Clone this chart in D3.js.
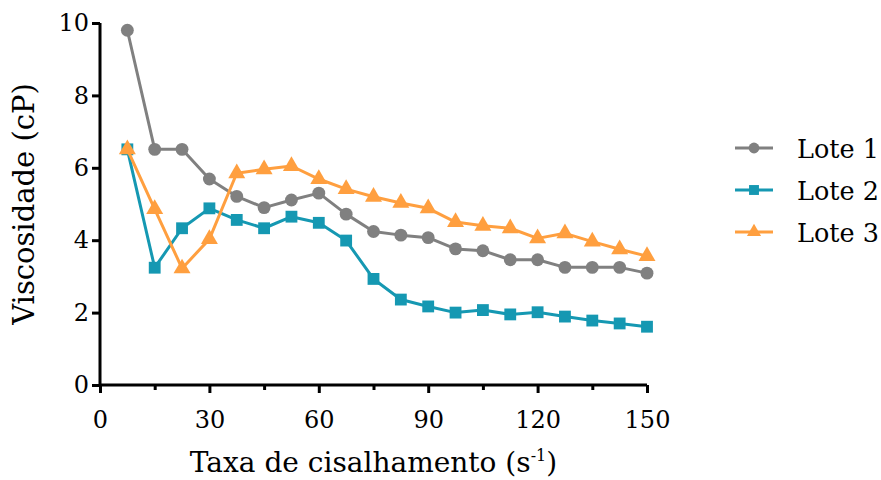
<!DOCTYPE html>
<html>
<head>
<meta charset="utf-8">
<script src="https://cdn.jsdelivr.net/npm/d3@7"></script>
<style>
  html, body { margin: 0; padding: 0; background: #fff; }
  svg { display: block; }
  text { font-family: "DejaVu Serif", Georgia, serif; fill: #000; }
</style>
</head>
<body>
<svg id="chart" width="881" height="480"></svg>
<script>
// Shear rate (s^-1) at which viscosity was measured
const shearRates = [7.5, 15, 22.5, 30, 37.5, 45, 52.5, 60, 67.5, 75,
                    82.5, 90, 97.5, 105, 112.5, 120, 127.5, 135, 142.5, 150];

// Viscosity (cP) per batch
const lote1 = [9.8, 6.51, 6.51, 5.69, 5.21, 4.9, 5.11, 5.3, 4.72, 4.24,
               4.14, 4.07, 3.76, 3.71, 3.46, 3.46, 3.25, 3.25, 3.25, 3.09];
const lote2 = [6.51, 3.24, 4.33, 4.88, 4.56, 4.33, 4.65, 4.48, 3.99, 2.93,
               2.36, 2.17, 2.0, 2.07, 1.95, 2.01, 1.89, 1.78, 1.7, 1.61];
const lote3 = [6.51, 4.86, 3.22, 4.03, 5.85, 5.96, 6.05, 5.69, 5.41, 5.2,
               5.03, 4.88, 4.5, 4.4, 4.33, 4.05, 4.19, 3.96, 3.75, 3.56];

const seriesNames = ["Lote 1", "Lote 2", "Lote 3"];
const xTicks = [0, 30, 60, 90, 120, 150];
const xMinorTicks = [15, 45, 75, 105, 135];
const yTicks = [0, 2, 4, 6, 8, 10];

const series = [
  { name: seriesNames[0], values: lote1, color: "#808080", symbol: d3.symbolCircle, size: 130 },
  { name: seriesNames[1], values: lote2, color: "#1598b2", symbol: d3.symbolSquare, size: 140 },
  { name: seriesNames[2], values: lote3, color: "#ff9f3f", symbol: d3.symbolTriangle, size: 125 }
];

const svg = d3.select("#chart");
const x = d3.scaleLinear().domain([0, 150]).range([100, 647]);
const y = d3.scaleLinear().domain([0, 10]).range([385, 23]);

// Axes
const xAxis = svg.append("g").attr("transform", `translate(0,${y(0)})`)
  .call(d3.axisBottom(x).tickValues(xTicks).tickSize(8).tickPadding(18).tickFormat(d3.format("d")));
svg.append("g").attr("transform", `translate(0,${y(0)})`)
  .call(d3.axisBottom(x).tickValues(xMinorTicks).tickSize(5).tickFormat(""))
  .call(g => g.select(".domain").remove());
const yAxis = svg.append("g").attr("transform", `translate(${x(0)},0)`)
  .call(d3.axisLeft(y).tickValues(yTicks).tickSize(8).tickPadding(3).tickFormat(d3.format("d")));

svg.selectAll(".domain").attr("stroke", "#000").attr("stroke-width", 3);
svg.selectAll(".tick line").attr("stroke", "#000").attr("stroke-width", 3);
svg.selectAll(".tick text").style("font-family", "'DejaVu Serif', serif").style("font-size", "24px").attr("fill", "#000");
xAxis.selectAll(".domain").attr("d", `M${x(0)},0H${x(150)}`);
yAxis.selectAll(".domain").attr("d", `M0,${y(0)}V${y(10)}`);

// Axis titles
const xTitle = svg.append("text")
  .attr("x", (x(0) + x(150)) / 2).attr("y", 472)
  .attr("text-anchor", "middle").style("font-size", "28px");
xTitle.append("tspan").text("Taxa de cisalhamento (s");
xTitle.append("tspan").attr("dy", -11).style("font-size", "16px").text("-1");
xTitle.append("tspan").attr("dy", 11).text(")");

svg.append("text")
  .attr("transform", `translate(34,${(y(0) + y(10)) / 2}) rotate(-90)`)
  .attr("text-anchor", "middle").style("font-size", "29px")
  .text("Viscosidade (cP)");

// Lines and markers
const line = d3.line().x((d, i) => x(shearRates[i])).y(d => y(d));
series.forEach(s => {
  svg.append("path").datum(s.values)
    .attr("d", line).attr("fill", "none")
    .attr("stroke", s.color).attr("stroke-width", 3).attr("stroke-linejoin", "round");
  svg.append("g").selectAll("path").data(s.values).join("path")
    .attr("transform", (d, i) => `translate(${x(shearRates[i])},${y(d)})`)
    .attr("d", d3.symbol().type(s.symbol).size(s.size))
    .attr("fill", s.color);
});

// Legend
const legend = svg.append("g");
series.forEach((s, i) => {
  const ly = 148 + i * 42;
  legend.append("line").attr("x1", 735).attr("x2", 773).attr("y1", ly).attr("y2", ly)
    .attr("stroke", s.color).attr("stroke-width", 3);
  legend.append("path").attr("transform", `translate(754,${ly})`)
    .attr("d", d3.symbol().type(s.symbol).size(s.size * 0.7)).attr("fill", s.color);
  legend.append("text").attr("x", 797).attr("y", ly + 10).style("font-size", "25.5px").text(s.name);
});
</script>
</body>
</html>
